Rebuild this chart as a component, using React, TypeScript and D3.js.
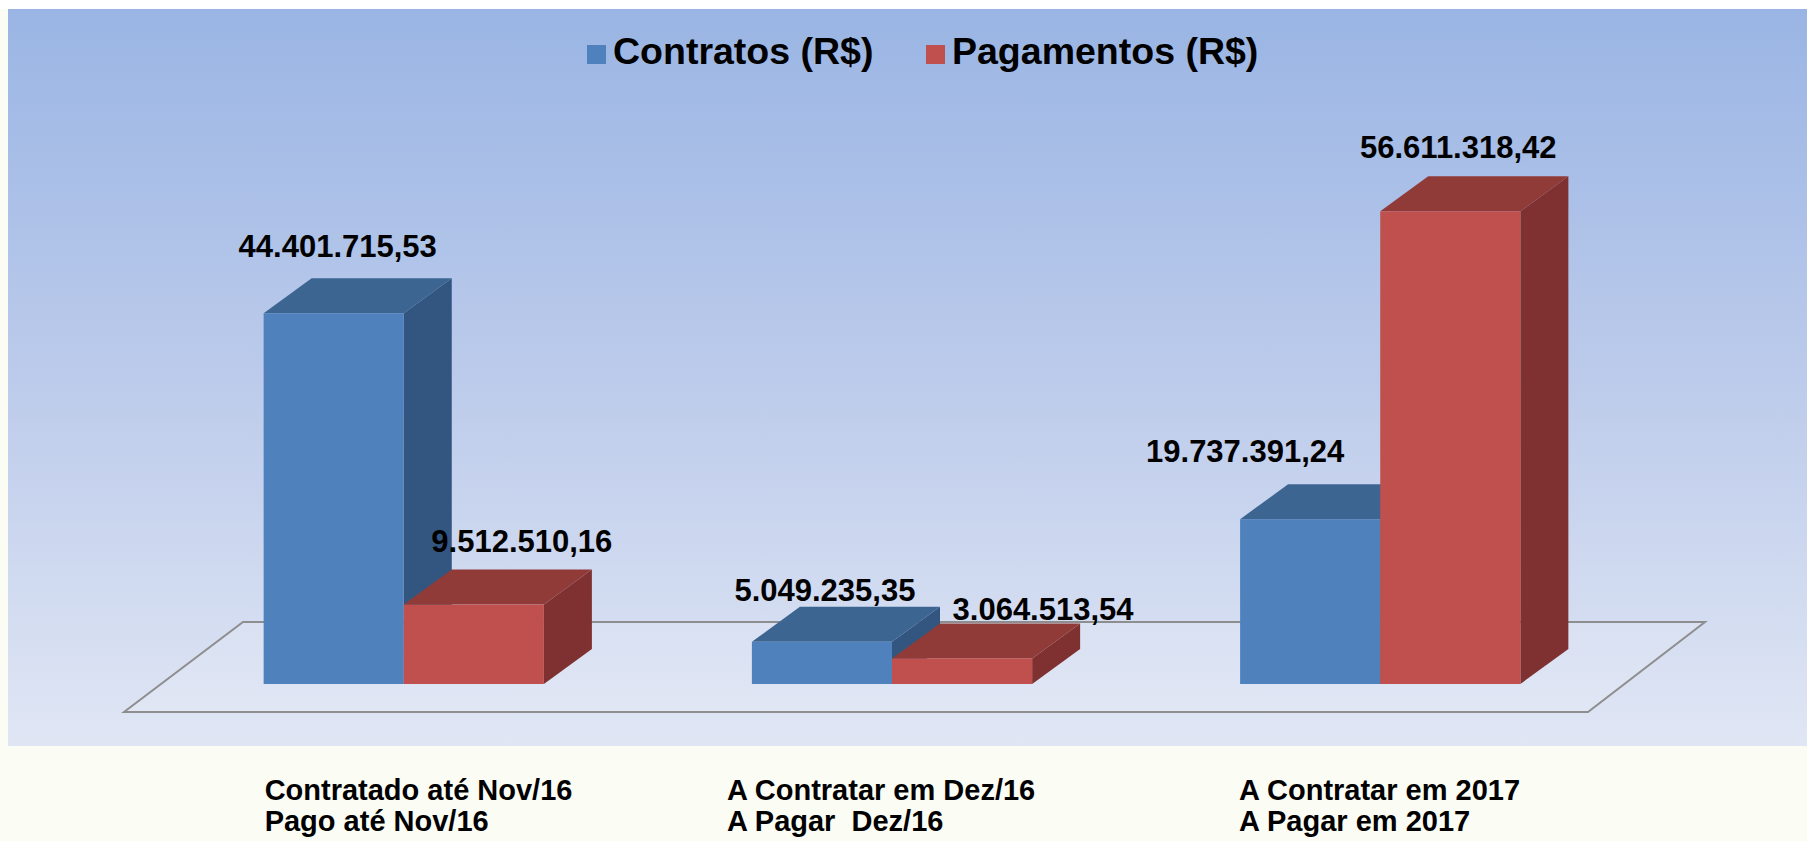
import React from 'react';
import * as d3 from 'd3';

const W = 1807;
const H = 841;

const categories = ['Contratado até Nov/16', 'A Contratar em Dez/16', 'A Contratar em 2017'];
const categoryLines = [
  ['Contratado até Nov/16', 'Pago até Nov/16'],
  ['A Contratar em Dez/16', 'A Pagar  Dez/16'],
  ['A Contratar em 2017', 'A Pagar em 2017'],
];
const seriesNames = ['Contratos (R$)', 'Pagamentos (R$)'];
const contratos = [44401715.53, 5049235.35, 19737391.24];
const pagamentos = [9512510.16, 3064513.54, 56611318.42];

// label nudges (px) where the original places value labels off-centre
const contratosLabelShift = [[-20, -21], [-21, -6], [-89, -22]];
const pagamentosLabelShift = [[24, -18], [57, -3], [-16, -18]];
const categoryLabelShift = [1, -25, -1];

const COLORS = [
  { front: '#4f81bd', top: '#3d6592', side: '#335681' },
  { front: '#c0504d', top: '#913b39', side: '#7e3130' },
];

const fmt = (v: number) => {
  const [int, dec] = v.toFixed(2).split('.');
  return int.replace(/\B(?=(\d{3})+(?!\d))/g, '.') + ',' + dec;
};

const FONT = '"Liberation Sans", Arial, sans-serif';

export default function App() {
  const depthX = 48;
  const depthY = 35;

  const x0 = d3.scaleBand<string>()
    .domain(categories)
    .range([166, 1618])
    .paddingInner(0.426)
    .paddingOuter(0.2);
  const x1 = d3.scaleBand<string>()
    .domain(seriesNames)
    .range([0, x0.bandwidth()]);
  const y = d3.scaleLinear().domain([0, 60000000]).range([684, 183]);

  const series = [
    { name: seriesNames[0], values: contratos, shift: contratosLabelShift, color: COLORS[0] },
    { name: seriesNames[1], values: pagamentos, shift: pagamentosLabelShift, color: COLORS[1] },
  ];

  // floor plane
  const floorFront = 712;
  const floorBack = 622;
  const fl = 124, fr = 1588, bl = 243, br = 1705;
  const floorPath = `M${fl},${floorFront}L${bl},${floorBack}L${br},${floorBack}L${fr},${floorFront}Z`;

  const bars: any[] = [];
  categories.forEach((c, i) => {
    series.forEach((s) => {
      const xl = (x0(c) as number) + (x1(s.name) as number);
      const w = x1.bandwidth();
      const yt = y(s.values[i]);
      const yb = y(0);
      bars.push({ key: c + s.name, xl, w, yt, yb, s, i });
    });
  });

  return (
    <div style={{ position: 'absolute', left: 0, top: 0 }}>
      <svg width={W} height={H} viewBox={`0 0 ${W} ${H}`} style={{ display: 'block' }}>
        <defs>
          <linearGradient id="bg" x1="0" y1="0" x2="0" y2="1">
            <stop offset="0%" stopColor="#9ab5e4" />
            <stop offset="50%" stopColor="#bccbeb" />
            <stop offset="100%" stopColor="#e0e6f4" />
          </linearGradient>
        </defs>
        <rect x={0} y={0} width={W} height={H} fill="#fbfcf4" />
        <rect x={0} y={0} width={W} height={9} fill="#ffffff" />
        <rect x={8} y={9} width={W - 8} height={737} fill="url(#bg)" />

        {/* legend */}
        <g fontFamily={FONT} fontWeight="bold" fontSize={37.5} fill="#000">
          <rect x={587} y={45} width={19} height={19} fill={COLORS[0].front} />
          <text x={613} y={64}>{seriesNames[0]}</text>
          <rect x={926} y={45} width={19} height={19} fill={COLORS[1].front} />
          <text x={952} y={64}>{seriesNames[1]}</text>
        </g>

        {/* floor */}
        <path d={floorPath} fill="rgba(255,255,255,0.12)" stroke="#8e8e8e" strokeWidth={2} />

        {/* bars */}
        {bars.map((b) => (
          <g key={b.key}>
            <path
              d={`M${b.xl + b.w},${b.yt}L${b.xl + b.w + depthX},${b.yt - depthY}L${b.xl + b.w + depthX},${b.yb - depthY}L${b.xl + b.w},${b.yb}Z`}
              fill={b.s.color.side}
            />
            <path
              d={`M${b.xl},${b.yt}L${b.xl + depthX},${b.yt - depthY}L${b.xl + b.w + depthX},${b.yt - depthY}L${b.xl + b.w},${b.yt}Z`}
              fill={b.s.color.top}
            />
            <rect x={b.xl} y={b.yt} width={b.w} height={b.yb - b.yt} fill={b.s.color.front} />
          </g>
        ))}

        {/* value labels */}
        <g fontFamily={FONT} fontWeight="bold" fontSize={31} fill="#000" textAnchor="middle">
          {bars.map((b) => (
            <text
              key={'l' + b.key}
              x={b.xl + b.w / 2 + depthX / 2 + b.s.shift[b.i][0]}
              y={b.yt - depthY + b.s.shift[b.i][1]}
            >
              {fmt(b.s.values[b.i])}
            </text>
          ))}
        </g>

        {/* category labels */}
        <g fontFamily={FONT} fontWeight="bold" fontSize={29} fill="#000">
          {categories.map((c, i) => {
            const lx = (x0(c) as number) + categoryLabelShift[i];
            return (
              <text key={c} x={lx} y={800} style={{ whiteSpace: 'pre' }}>
                {categoryLines[i].map((line, k) => (
                  <tspan key={k} x={lx} y={800 + k * 31}>{line}</tspan>
                ))}
              </text>
            );
          })}
        </g>
      </svg>
    </div>
  );
}
